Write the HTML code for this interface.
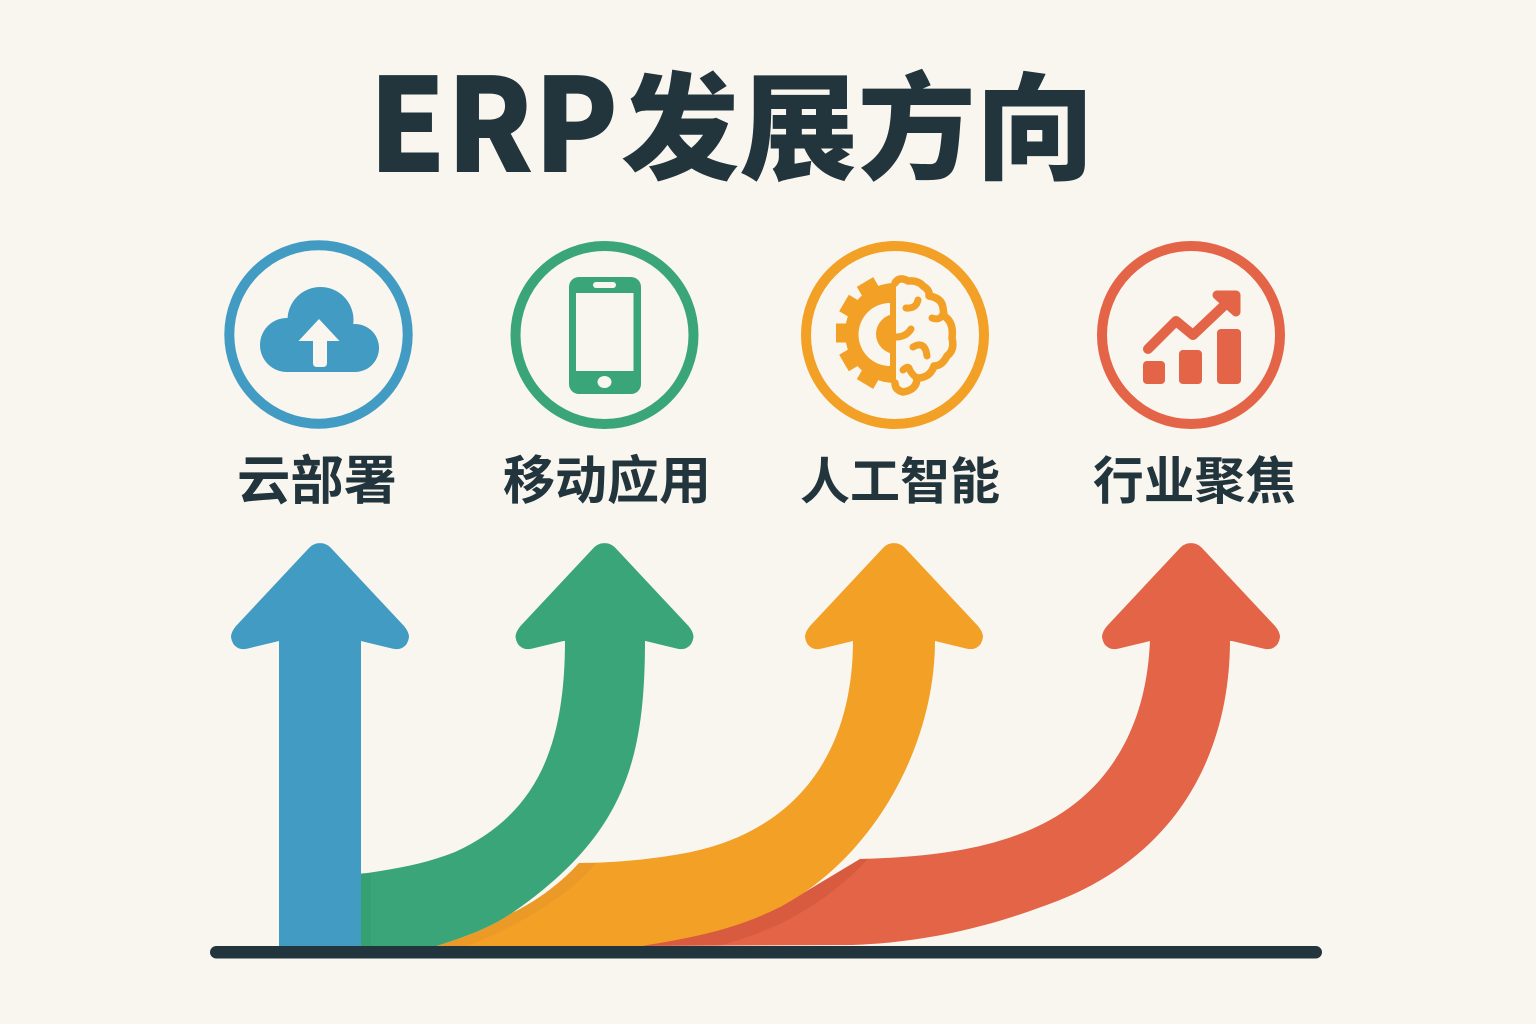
<!DOCTYPE html>
<html lang="zh"><head><meta charset="utf-8"><title>ERP发展方向</title>
<style>html,body{margin:0;padding:0;background:#f9f6ef}svg{display:block}
text{font-family:"Liberation Sans","Noto Sans CJK SC",sans-serif;font-weight:700;fill:#22343c}
.c{font-family:"Noto Sans CJK SC",sans-serif;font-weight:900}
.l{font-family:"Noto Sans CJK SC",sans-serif;font-weight:700}
</style></head><body>
<svg xmlns="http://www.w3.org/2000/svg" width="1536" height="1024" viewBox="0 0 1536 1024">
<defs>
<path id="h" d="M-41,98 L-72,105.500 Q-78,107 -82,105 Q-88,102 -89,94 Q-89,89 -84,83 L-11,5 C-5,-1.500 5,-1.500 11,5 L84,83 Q89,89 89,94 Q88,102 82,105 Q78,107 72,105.500 L41,98 Z"/>
<clipPath id="cr"><path d="M1150,640 C1147,720 1115,775 1069,808 C1010,850 930,857 860,859 L780,907 L640,946 L852,945 C920,943 985,928 1041,907 C1180,860 1230,750 1230,640 Z"/></clipPath>
<clipPath id="gl"><rect x="830" y="260" width="66" height="150"/></clipPath>
</defs>
<rect width="1536" height="1024" fill="#f9f6ef"/>

<text class="c" x="368.500" y="172" font-size="130" textLength="250" lengthAdjust="spacingAndGlyphs">ERP</text>
<text class="c" x="621" y="170" font-size="116" textLength="473" lengthAdjust="spacingAndGlyphs">发展方向</text>

<!-- blue icon -->
<circle cx="318.500" cy="334.500" r="89.200" fill="none" stroke="#429bc2" stroke-width="10"/>
<g fill="#429bc2">
<circle cx="287" cy="345" r="27"/>
<circle cx="355" cy="348" r="24"/>
<circle cx="320.500" cy="320" r="33"/>
<rect x="287" y="325" width="68" height="47"/>
</g>
<path fill="#f9f6ef" d="M319,319 L339.500,341 L327,341 L327,363 Q327,367 323,367 L317,367 Q313,367 313,363 L313,341 L298.500,341 Z"/>

<!-- green icon -->
<circle cx="604.500" cy="335" r="89" fill="none" stroke="#3aa578" stroke-width="10"/>
<rect x="569" y="277" width="72" height="117" rx="10" fill="#3aa578"/>
<rect x="576" y="293" width="57.500" height="78" fill="#f9f6ef"/>
<rect x="593" y="282" width="23" height="6" rx="3" fill="#f9f6ef"/>
<ellipse cx="604.500" cy="382" rx="7" ry="6" fill="#f9f6ef"/>

<!-- orange icon -->
<circle cx="895" cy="335" r="89" fill="none" stroke="#f2a026" stroke-width="10"/>
<g clip-path="url(#gl)">
<circle cx="895" cy="333" r="50" fill="#f2a026"/>
<g stroke="#f2a026" stroke-width="19">
<line x1="895" y1="333" x2="836" y2="333"/>
<line x1="895" y1="333" x2="844" y2="303"/>
<line x1="895" y1="333" x2="865" y2="282"/>
<line x1="895" y1="333" x2="844" y2="363"/>
<line x1="895" y1="333" x2="865" y2="384"/>
</g>
<path fill="#f9f6ef" d="M890,303 A31,31 0 0,0 890,366 Z"/>
<path fill="#f2a026" d="M896,314 A20,20 0 1,0 896,354 Z"/>
</g>
<path fill="none" stroke="#f2a026" stroke-width="7.500" stroke-linecap="round" stroke-linejoin="round" d="M895,283 Q899,276 908,281 Q918,280 923,286 Q930,290 929,296 Q942,298 943,308 Q944,314 944,316 Q954,322 952,338 Q955,350 947,356 Q942,366 934,366 Q930,378 917,378 Q917,390 903,392 Q895,390 895,383"/>
<g fill="none" stroke="#f2a026" stroke-width="7" stroke-linecap="round">
<path d="M906,308 Q916,309 918,300"/>
<path d="M932,318 Q940,321 943,314"/>
<path d="M896,337 Q906,337 911,329"/>
<path d="M913,347 Q925,340 927,356"/>
<path d="M917,378 Q911,374 909,368 Q907,366 903,370"/>
</g>

<!-- red icon -->
<circle cx="1191" cy="335" r="89" fill="none" stroke="#e36447" stroke-width="10"/>
<rect x="1143" y="361" width="22" height="23" rx="4" fill="#e36447"/>
<rect x="1179" y="350" width="23" height="34" rx="4" fill="#e36447"/>
<rect x="1217" y="329" width="24" height="55" rx="4" fill="#e36447"/>
<path fill="none" stroke="#e36447" stroke-width="10" stroke-linecap="round" stroke-linejoin="round" d="M1148,349 L1176,321 L1193,335 L1232,298"/>
<path fill="#e36447" stroke="#e36447" stroke-width="9" stroke-linejoin="round" d="M1217,295 L1236,295 L1236,312 Z"/>

<!-- labels -->
<text class="l" x="237" y="499" font-size="53" textLength="160" lengthAdjust="spacingAndGlyphs">云部署</text>
<text class="l" x="503" y="499" font-size="52" textLength="208" lengthAdjust="spacingAndGlyphs">移动应用</text>
<text class="l" x="800" y="499" font-size="50" textLength="200" lengthAdjust="spacingAndGlyphs">人工智能</text>
<text class="l" x="1093" y="499" font-size="51" textLength="203" lengthAdjust="spacingAndGlyphs">行业聚焦</text>

<!-- red arrow -->
<path fill="#e36447" d="M1150,640 C1147,720 1115,775 1069,808 C1010,850 930,857 860,859 L780,907 L640,946 L852,945 C920,943 985,928 1041,907 C1180,860 1230,750 1230,640 Z"/>
<use href="#h" x="1191" y="543" fill="#e36447"/>
<path clip-path="url(#cr)" fill="none" stroke="#b9442f" stroke-opacity=".28" stroke-width="30" d="M642,946 C690,938 735,930 780,907 C870,860 900,790 915,750"/>

<!-- green arrow -->
<path fill="#3aa578" d="M565,640 C565,750 535,815 455,852 C425,864 395,869 361,874 L361,946 L437,946 C465,937 490,928 512,913 C625,835 645,760 645,640 Z"/>
<use href="#h" x="604.500" y="543" fill="#3aa578"/>
<rect x="361" y="873" width="10" height="73" fill="#2f9a6c" opacity=".4"/>

<!-- orange arrow -->
<path fill="#f2a026" d="M853,640 C853,755 795,830 691,852 C650,860 610,863 579,863 C560,884 535,902 512,913 C490,928 465,937 437,946 L642,946 C690,938 735,930 780,907 C870,860 935,750 935,640 Z"/>
<use href="#h" x="894" y="543" fill="#f2a026"/>
<path fill="#e0922a" opacity=".4" d="M579,863 L596,863 C570,895 520,925 468,946 L437,946 C465,937 490,928 512,913 C535,902 560,884 579,863 Z"/>

<!-- blue arrow -->
<rect x="279" y="640" width="82" height="306" fill="#429bc2"/>
<use href="#h" x="320" y="543" fill="#429bc2"/>

<!-- baseline -->
<rect x="210" y="946" width="1112" height="12.500" rx="6.200" fill="#22343c"/>
</svg>
</body></html>
